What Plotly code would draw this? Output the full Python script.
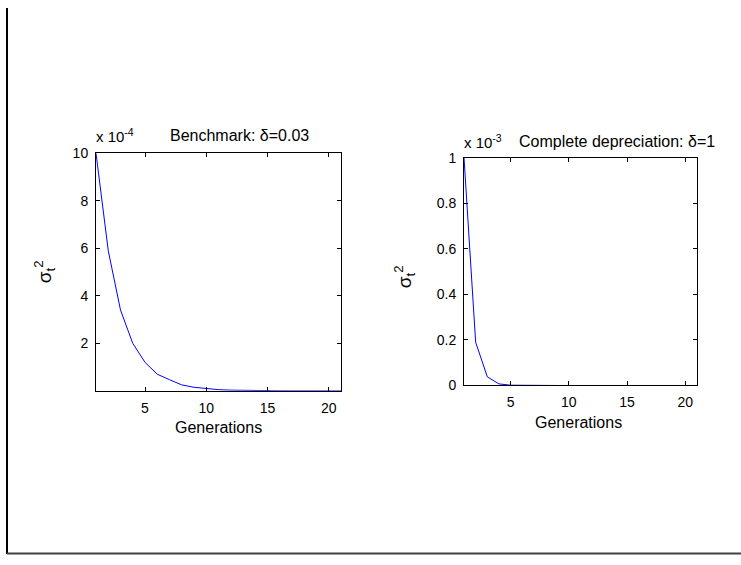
import plotly.graph_objects as go

# ---- data (values shown in axis units: left x1e-4, right x1e-3) ----
generations = list(range(1, 22))
benchmark_sigma2 = [10.0, 5.9, 3.4, 2.0, 1.2, 0.7, 0.47, 0.25, 0.15, 0.09, 0.05,
                    0.03, 0.018, 0.01, 0.006, 0.0035, 0.002, 0.0012, 0.0007,
                    0.0004, 0.00025]
complete_sigma2 = [1.0, 0.19, 0.038, 0.007, 0.0013, 0.0002, 0.00004, 0.00001,
                   0.0, 0.0, 0.0, 0.0, 0.0, 0.0, 0.0, 0.0, 0.0, 0.0, 0.0, 0.0, 0.0]
left_yticks = [2, 4, 6, 8, 10]
right_yticks = [0, 0.2, 0.4, 0.6, 0.8, 1]
right_yticktext = ["0", "0.2", "0.4", "0.6", "0.8", "1"]
xticks = [5, 10, 15, 20]
left_title = "Benchmark: δ=0.03"
right_title = "Complete depreciation: δ=1"
left_exp = "x 10<sup>-4</sup>"
right_exp = "x 10<sup>-3</sup>"
x_label = "Generations"
y_label = "σ<sub>t</sub><sup>2</sup>"

W, H = 741, 565
FONT = "Liberation Sans, Arial, sans-serif"

def px_x(p):
    return p / W

def px_y(p):
    return 1 - p / H

fig = go.Figure()
fig.add_trace(go.Scatter(x=generations, y=benchmark_sigma2, mode="lines",
                         line=dict(color="#0000ff", width=1), xaxis="x", yaxis="y",
                         showlegend=False))
fig.add_trace(go.Scatter(x=generations, y=complete_sigma2, mode="lines",
                         line=dict(color="#0000ff", width=1), xaxis="x2", yaxis="y2",
                         showlegend=False))

axis_common = dict(showline=True, linecolor="black", linewidth=1, mirror="ticks",
                   ticks="inside", ticklen=4, tickcolor="black", showgrid=False,
                   zeroline=False, tickfont=dict(family=FONT, size=14, color="black"),
                   ticklabelstandoff=4)

L = (96, 341, 149.5, 394)
R = (464, 697, 154, 388.5)

fig.update_layout(
    width=W, height=H,
    margin=dict(l=0, r=0, t=0, b=0),
    paper_bgcolor="white", plot_bgcolor="white",
    xaxis=dict(domain=[px_x(L[0]), px_x(L[1])], range=[1, 21], tickvals=xticks,
               anchor="y", **axis_common),
    yaxis=dict(domain=[px_y(L[3]), px_y(L[2])], range=[0, 10], tickvals=left_yticks,
               anchor="x", **axis_common),
    xaxis2=dict(domain=[px_x(R[0]), px_x(R[1])], range=[1, 21], tickvals=xticks,
                anchor="y2", **axis_common),
    yaxis2=dict(domain=[px_y(R[3]), px_y(R[2])], range=[0, 1], tickvals=right_yticks,
                ticktext=right_yticktext, anchor="x2", **axis_common),
)

ann = []
def add_text(text, x, y, size=14, xanchor="center", yanchor="middle", angle=0):
    ann.append(dict(text=text, x=px_x(x), y=px_y(y), xref="paper", yref="paper",
                    showarrow=False, xanchor=xanchor, yanchor=yanchor, textangle=angle,
                    font=dict(family=FONT, size=size, color="black")))

add_text(left_title, 239, 131, size=16)
add_text(left_exp, 94, 131, size=15, xanchor="left")
add_text(right_title, 617, 137, size=16)
add_text(right_exp, 462, 137, size=15, xanchor="left")
add_text(x_label, 218, 432, size=16)
add_text(x_label, 578, 427, size=16)
add_text(y_label, 44, 272, size=19, angle=-90)
add_text(y_label, 404, 277, size=19, angle=-90)
fig.update_layout(annotations=ann)

# outer frame lines (left and bottom)
fig.add_shape(type="line", xref="paper", yref="paper", x0=px_x(7), x1=px_x(7),
              y0=px_y(0), y1=px_y(562), line=dict(color="black", width=2))
fig.add_shape(type="line", xref="paper", yref="paper", x0=px_x(7), x1=1,
              y0=px_y(561.5), y1=px_y(561.5), line=dict(color="#404040", width=2))

fig.write_html("out.html", config={"displayModeBar": False},
               post_script="document.body.style.margin='0';document.body.style.overflow='hidden';")
